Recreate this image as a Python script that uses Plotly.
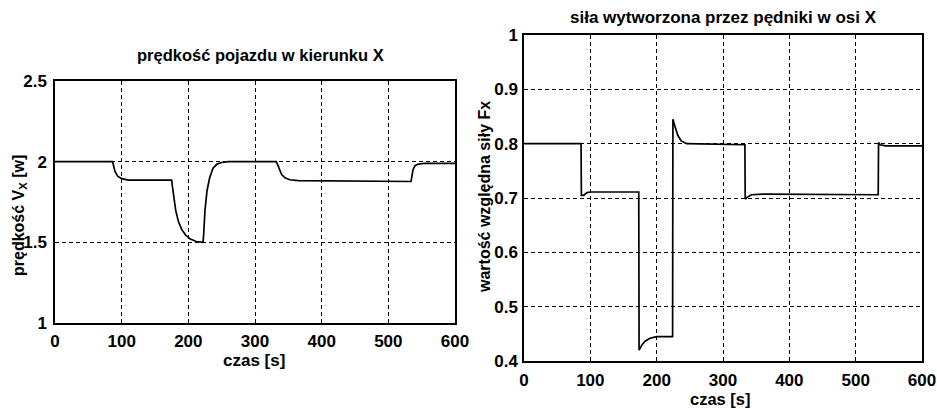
import plotly.graph_objects as go

# ---- data ----
t_v = [0, 86, 87, 90, 94, 100, 110, 175, 176, 178, 181, 185, 190, 196, 203, 212, 222,
       223, 225, 228, 232, 237, 243, 250, 260, 332, 333, 336, 340, 345, 352, 365,
       534, 535, 537, 540, 545, 555, 600]
vx = [2.0, 2.0, 1.99, 1.94, 1.91, 1.895, 1.886, 1.885, 1.85, 1.78, 1.70, 1.63, 1.58,
      1.545, 1.52, 1.505, 1.5, 1.55, 1.7, 1.82, 1.9, 1.96, 1.985, 1.995, 2.0, 2.0,
      1.99, 1.95, 1.92, 1.90, 1.888, 1.882, 1.877, 1.90, 1.95, 1.975, 1.985, 1.99, 1.99]

t_f = [0, 86, 86.5, 90, 95, 100, 173, 173.5, 178, 183, 190, 200, 224, 224.5, 228, 232,
       237, 245, 333, 333.5, 337, 343, 360, 534, 534.5, 537, 545, 600]
fx = [0.8, 0.8, 0.705, 0.705, 0.71, 0.711, 0.711, 0.42, 0.43, 0.437, 0.442, 0.445,
      0.445, 0.845, 0.83, 0.815, 0.805, 0.8, 0.798, 0.698, 0.702, 0.706, 0.707, 0.706,
      0.802, 0.798, 0.796, 0.796]

x_ticks = [0, 100, 200, 300, 400, 500, 600]
y1_ticks = [1, 1.5, 2, 2.5]
y1_labels = ["1", "1.5", "2", "2.5"]
y2_ticks = [0.4, 0.5, 0.6, 0.7, 0.8, 0.9, 1.0]
y2_labels = ["0.4", "0.5", "0.6", "0.7", "0.8", "0.9", "1"]

title1 = "prędkość pojazdu w kierunku X"
title2 = "siła wytworzona przez pędniki w osi X"
ylab1 = "prędkość V<sub>X</sub> [w]"
ylab2 = "wartość względna siły Fx"
xlab = "czas [s]"

W, H = 937, 409
FONT = "Liberation Sans, Arial, sans-serif"

def px(x):
    return x / W

def py(y):
    return 1 - y / H

fig = go.Figure()
fig.add_trace(go.Scatter(x=t_v, y=vx, mode="lines", line=dict(color="black", width=1.7),
                         xaxis="x", yaxis="y", showlegend=False))
fig.add_trace(go.Scatter(x=t_f, y=fx, mode="lines", line=dict(color="black", width=1.7),
                         xaxis="x2", yaxis="y2", showlegend=False))

axis_common = dict(
    automargin=False,
    showgrid=True, gridcolor="black", gridwidth=1, griddash="4px,3px",
    showline=True, linecolor="black", linewidth=1.5, mirror=True,
    zeroline=False, ticks="inside", ticklen=4, tickcolor="black",
    tickfont=dict(family=FONT, size=17, color="black", weight="bold"),
)

fig.update_layout(
    width=W, height=H, margin=dict(l=0, r=0, t=0, b=0),
    paper_bgcolor="white", plot_bgcolor="white",
    xaxis=dict(domain=[px(55), px(455)], range=[0, 600], tickvals=x_ticks,
               anchor="y", ticklabelstandoff=2, **axis_common),
    yaxis=dict(domain=[py(323), py(81)], range=[1, 2.5], tickvals=y1_ticks,
               ticktext=y1_labels, anchor="x", ticklabelstandoff=3, **axis_common),
    xaxis2=dict(domain=[px(524), px(922)], range=[0, 600], tickvals=x_ticks,
                anchor="y2", ticklabelstandoff=3, **axis_common),
    yaxis2=dict(domain=[py(361), py(35)], range=[0.4, 1.0], tickvals=y2_ticks,
                ticktext=y2_labels, anchor="x2", ticklabelstandoff=1, **axis_common),
)

def ann(text, x, y, size=15, angle=0):
    fig.add_annotation(text=text, x=px(x), y=py(y), xref="paper", yref="paper",
                       showarrow=False, textangle=angle, xanchor="center", yanchor="middle",
                       font=dict(family=FONT, size=size, color="black", weight="bold"))

ann(title1, 260, 55, 16.5)
ann(title2, 723, 18, 17)
ann(xlab, 254, 360, 17)
ann(xlab, 720, 399, 16.5)
ann(ylab1, 19, 216, 16, -90)
ann(ylab2, 484, 197, 16, -90)

fig.write_html("out.html", config={"displayModeBar": False},
               post_script="document.body.style.margin='0';")
